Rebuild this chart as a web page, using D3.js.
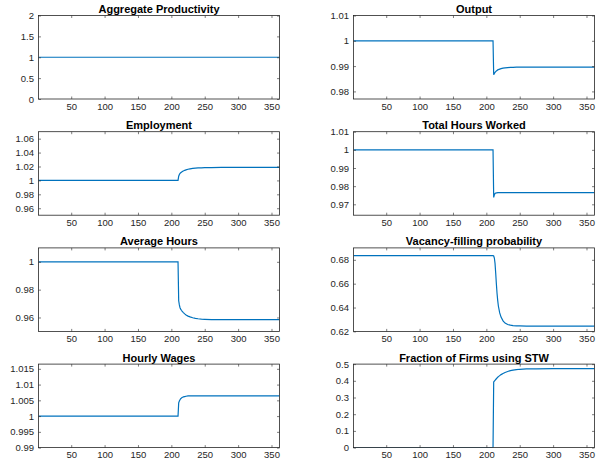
<!DOCTYPE html>
<html>
<head>
<meta charset="utf-8">
<script src="https://cdn.jsdelivr.net/npm/d3@7"></script>
<style>
  body { margin: 0; background: #fff; overflow: hidden; }
  svg { display: block; font-family: "Liberation Sans", Arial, Helvetica, sans-serif; }
  .tick-label { font-size: 9.5px; fill: #262626; }
  .title { font-size: 11px; font-weight: bold; fill: #000; }
</style>
</head>
<body>
<svg id="chart"></svg>
<script>
// time periods (shared by all series)
var periods = [1, 210, 211, 212, 213, 214, 215, 216, 217, 218, 220, 222, 225, 228, 232, 236, 240, 245, 250, 260, 275, 300, 330, 362];

// series values
var productivity = [1, 1, 1, 1, 1, 1, 1, 1, 1, 1, 1, 1, 1, 1, 1, 1, 1, 1, 1, 1, 1, 1, 1, 1];
var output = [1, 1, 0.9866, 0.9871, 0.9875, 0.9878, 0.9881, 0.9883, 0.9885, 0.9886, 0.9888, 0.989, 0.9892, 0.9893, 0.9894, 0.9895, 0.9895, 0.9896, 0.9896, 0.9896, 0.9896, 0.9896, 0.9896, 0.9896];
var employment = [1, 1, 1.006, 1.0085, 1.01, 1.011, 1.0118, 1.0125, 1.0131, 1.0136, 1.0145, 1.0152, 1.016, 1.0166, 1.0172, 1.0176, 1.0179, 1.0181, 1.0183, 1.0185, 1.0186, 1.0186, 1.0186, 1.0186];
var totalHours = [1, 1, 0.9738, 0.9752, 0.976, 0.9762, 0.9763, 0.9763, 0.9764, 0.9764, 0.9764, 0.9764, 0.9764, 0.9764, 0.9764, 0.9764, 0.9764, 0.9764, 0.9764, 0.9764, 0.9764, 0.9764, 0.9764, 0.9764];
var avgHours = [1, 1, 0.972, 0.969, 0.967, 0.966, 0.9652, 0.9645, 0.964, 0.9635, 0.9626, 0.9618, 0.961, 0.9604, 0.9598, 0.9594, 0.9591, 0.9588, 0.9587, 0.9585, 0.9584, 0.9584, 0.9584, 0.9584];
var vacancyFill = [0.6835, 0.6835, 0.6832, 0.6815, 0.677, 0.669, 0.66, 0.652, 0.646, 0.6413, 0.6355, 0.632, 0.6288, 0.627, 0.6258, 0.6252, 0.6249, 0.6247, 0.6246, 0.6245, 0.6245, 0.6245, 0.6245, 0.6245];
var hourlyWages = [1, 1, 1.0042, 1.0048, 1.0052, 1.0055, 1.0057, 1.0059, 1.006, 1.0061, 1.0062, 1.0063, 1.0064, 1.0064, 1.0064, 1.0064, 1.0064, 1.0064, 1.0064, 1.0064, 1.0064, 1.0064, 1.0064, 1.0064];
var stwFraction = [0, 0, 0.393, 0.398, 0.403, 0.408, 0.412, 0.417, 0.421, 0.425, 0.431, 0.437, 0.444, 0.45, 0.456, 0.461, 0.464, 0.467, 0.469, 0.471, 0.472, 0.4725, 0.4725, 0.4725];

// titles, axis limits, ticks
var titles = ["Aggregate Productivity", "Output", "Employment", "Total Hours Worked",
              "Average Hours", "Vacancy-filling probability", "Hourly Wages", "Fraction of Firms using STW"];
var seriesList = [productivity, output, employment, totalHours, avgHours, vacancyFill, hourlyWages, stwFraction];
var yLimits = [[0, 2], [0.977, 1.01], [0.95, 1.07], [0.964, 1.01], [0.95, 1.01], [0.62, 0.69], [0.99, 1.0165], [0, 0.5]];
var yTicks = [
  [0, 0.5, 1, 1.5, 2],
  [0.98, 0.99, 1, 1.01],
  [0.96, 0.98, 1, 1.02, 1.04, 1.06],
  [0.97, 0.98, 0.99, 1, 1.01],
  [0.96, 0.98, 1],
  [0.62, 0.64, 0.66, 0.68],
  [0.99, 0.995, 1, 1.005, 1.01, 1.015],
  [0, 0.1, 0.2, 0.3, 0.4, 0.5]
];
var xLimits = [1, 362];
var xTicks = [50, 100, 150, 200, 250, 300, 350];

var W = 599, H = 459;
var colLeft = [38.5, 353.5], plotW = 241;
var rowTop0 = 15.5, rowStep = 116.2, plotH = 83.5;
var tickLen = 2.5;
var lineColor = "#0072BD", axisColor = "#262626";

var svg = d3.select("#chart").attr("width", W).attr("height", H);

seriesList.forEach(function(vals, i) {
  var col = i % 2, row = Math.floor(i / 2);
  var x0 = colLeft[col], y0 = rowTop0 + row * rowStep;
  var g = svg.append("g").attr("transform", "translate(" + x0 + "," + y0 + ")");

  var xScale = d3.scaleLinear().domain(xLimits).range([0, plotW]);
  var yScale = d3.scaleLinear().domain(yLimits[i]).range([plotH, 0]);

  // clipped line
  var clipId = "clip" + i;
  g.append("clipPath").attr("id", clipId)
    .append("rect").attr("width", plotW).attr("height", plotH);

  var line = d3.line()
    .x(function(d) { return xScale(d[0]); })
    .y(function(d) { return yScale(d[1]); });
  g.append("path")
    .datum(periods.map(function(t, k) { return [t, vals[k]]; }))
    .attr("clip-path", "url(#" + clipId + ")")
    .attr("fill", "none")
    .attr("stroke", lineColor)
    .attr("stroke-width", 1.2)
    .attr("d", line);

  // axes: ticks inside on all four sides, mirrored like a matlab box
  var axB = d3.axisBottom(xScale).tickValues(xTicks).tickSizeInner(-tickLen).tickSizeOuter(0).tickPadding(4).tickFormat(String);
  var axT = d3.axisTop(xScale).tickValues(xTicks).tickSizeInner(-tickLen).tickSizeOuter(0).tickFormat("");
  var axL = d3.axisLeft(yScale).tickValues(yTicks[i]).tickSizeInner(-tickLen).tickSizeOuter(0).tickPadding(4.5).tickFormat(String);
  var axR = d3.axisRight(yScale).tickValues(yTicks[i]).tickSizeInner(-tickLen).tickSizeOuter(0).tickFormat("");

  [[axB, "translate(0," + plotH + ")"], [axT, null], [axL, null], [axR, "translate(" + plotW + ",0)"]].forEach(function(a) {
    var ag = g.append("g").call(a[0]);
    if (a[1]) ag.attr("transform", a[1]);
    ag.select(".domain").remove();
    ag.selectAll("line").attr("stroke", axisColor).attr("stroke-width", 0.6);
    ag.selectAll("text").attr("class", "tick-label").attr("fill", axisColor);
    ag.attr("font-size", null).attr("font-family", null);
  });

  // box
  g.append("rect")
    .attr("width", plotW).attr("height", plotH)
    .attr("fill", "none").attr("stroke", axisColor).attr("stroke-width", 0.8);

  g.append("text")
    .attr("class", "title")
    .attr("x", plotW / 2).attr("y", -2.5)
    .attr("text-anchor", "middle")
    .text(titles[i]);
});
</script>
</body>
</html>
